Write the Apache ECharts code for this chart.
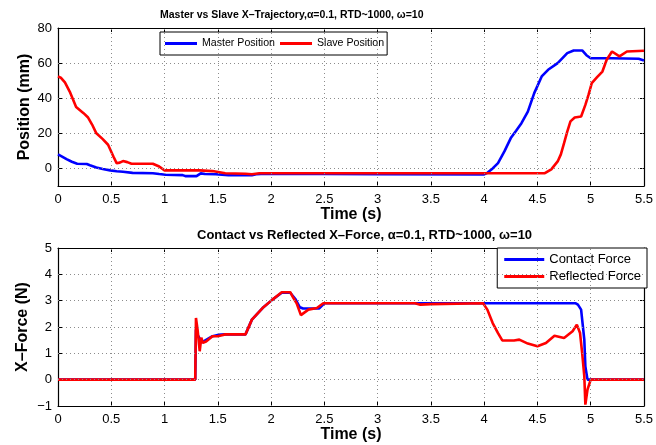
<!DOCTYPE html>
<html>
<head>
<meta charset="utf-8">
<script src="https://cdn.jsdelivr.net/npm/echarts@6/dist/echarts.min.js"></script>
<style>
  html, body { margin: 0; padding: 0; background: #fff; }
  #chart { width: 656px; height: 445px; }
</style>
</head>
<body>
<div id="chart"></div>
<script>
// Trajectory plot: [time (s), position (mm)]
const masterPosition = [
  [0, 8], [0.03, 7], [0.08, 5.3], [0.13, 3.8], [0.18, 2.7], [0.27, 2.5], [0.3, 1.8],
  [0.36, 0.6], [0.42, -0.3], [0.49, -1.1], [0.55, -1.6], [0.61, -1.9], [0.7, -2.5],
  [0.89, -2.7], [0.95, -3.2], [1.01, -3.6], [1.17, -3.8], [1.2, -4.4], [1.3, -4.4],
  [1.34, -2.8], [1.38, -3.2], [1.48, -3.3], [1.6, -3.8], [1.82, -3.8], [1.86, -3.3],
  [1.95, -3.0], [2.5, -3.2], [3.0, -3.3], [4.0, -3.4], [4.03, -2.5], [4.08, 0],
  [4.13, 3], [4.19, 9.7], [4.25, 17.3], [4.3, 21.5], [4.35, 25.8], [4.41, 32.4],
  [4.47, 42.9], [4.54, 52.4], [4.6, 56.2], [4.69, 60], [4.78, 65.7], [4.84, 67.2],
  [4.92, 67.2], [4.96, 64.5], [5.0, 62.8], [5.2, 62.8], [5.45, 62.5], [5.5, 61.5]
];
const slavePosition = [
  [0, 52.4], [0.03, 51.5], [0.065, 49], [0.11, 43.8], [0.17, 35], [0.24, 31.5],
  [0.28, 29.2], [0.32, 25], [0.36, 20], [0.42, 16.7], [0.47, 13.5], [0.52, 6.8],
  [0.55, 3], [0.58, 3.3], [0.61, 4.2], [0.65, 3.6], [0.69, 2.7], [0.89, 2.7],
  [0.95, 1.1], [1.0, -1.1], [1.33, -1.1], [1.45, -1.5], [1.57, -2.7], [1.76, -3.0],
  [1.82, -3.3], [1.89, -2.7], [2.0, -2.7], [3.0, -2.7], [4.0, -2.7], [4.57, -2.7],
  [4.63, -0.5], [4.69, 4], [4.72, 8], [4.75, 14.4], [4.78, 21], [4.81, 26.8],
  [4.85, 29], [4.91, 29.6], [4.95, 36.2], [4.98, 42], [5.01, 48.6], [5.06, 52],
  [5.11, 55.2], [5.15, 61.9], [5.2, 66.6], [5.27, 63.8], [5.34, 66.6], [5.5, 67]
];

// Force plot: [time (s), force (N)]
const contactForce = [
  [0, 0], [1.288, 0], [1.295, 1.9], [1.31, 1.7], [1.35, 1.42], [1.45, 1.65],
  [1.5, 1.7], [1.57, 1.72], [1.76, 1.72], [1.82, 2.28], [1.92, 2.72], [2.01, 3.03],
  [2.1, 3.3], [2.18, 3.3], [2.23, 3.05], [2.27, 2.75], [2.3, 2.7], [2.45, 2.7],
  [2.5, 2.9], [4.86, 2.9], [4.88, 2.85], [4.91, 2.66], [4.94, 1.52], [4.95, 0.5],
  [4.97, 0], [5.5, 0]
];
const reflectedForce = [
  [0, 0], [1.288, 0], [1.295, 2.34], [1.31, 1.9], [1.32, 1.5], [1.33, 1.08],
  [1.345, 1.6], [1.36, 1.4], [1.39, 1.45], [1.45, 1.65], [1.5, 1.65], [1.57, 1.72],
  [1.76, 1.72], [1.82, 2.28], [1.92, 2.72], [2.01, 3.03], [2.1, 3.32], [2.18, 3.32],
  [2.21, 3.1], [2.24, 2.9], [2.28, 2.45], [2.35, 2.66], [2.43, 2.72], [2.49, 2.9],
  [3.35, 2.9], [3.4, 2.85], [3.5, 2.87], [3.99, 2.9], [4.03, 2.66], [4.08, 2.15],
  [4.13, 1.77], [4.17, 1.49], [4.28, 1.49], [4.33, 1.52], [4.41, 1.37], [4.5, 1.27],
  [4.58, 1.39], [4.66, 1.67], [4.75, 1.58], [4.83, 1.84], [4.87, 2.09], [4.9, 1.77],
  [4.92, 1.01], [4.94, 0.13], [4.95, -0.95], [4.97, -0.38], [5.0, 0], [5.5, 0]
];

// Tick positions
const timeTicks = [0, 0.5, 1, 1.5, 2, 2.5, 3, 3.5, 4, 4.5, 5, 5.5];
const positionTicks = [0, 20, 40, 60, 80];
const forceTicks = [-1, 0, 1, 2, 3, 4, 5];

const FONT = '"Liberation Sans", Arial, Helvetica, sans-serif';
const GRID_COLOR = '#8c8c8c';
const BLUE = '#0000ff';
const RED = '#ff0000';
const minusSign = v => String(v).replace('-', '\u2212');

function timeAxis(gridIndex, isTop) {
  return {
    type: 'value', gridIndex, min: 0, max: 5.5, interval: 0.5,
    position: isTop ? 'top' : 'bottom',
    name: isTop ? '' : 'Time (s)', nameLocation: 'middle', nameGap: 21,
    nameMoveOverlap: false,
    nameTextStyle: { fontFamily: FONT, fontSize: 16, fontWeight: 'bold', color: '#000' },
    axisLine: { show: true, onZero: false, lineStyle: { color: '#000', width: 1.2 } },
    axisTick: { show: true, inside: true, length: 4, lineStyle: { color: '#000' } },
    axisLabel: { show: !isTop, margin: 7, fontFamily: FONT, fontSize: 13, color: '#000' },
    splitLine: { show: false }
  };
}

function valueAxis(gridIndex, isRight, min, max, ticks, name, gap) {
  return {
    type: 'value', gridIndex, min, max,
    position: isRight ? 'right' : 'left',
    name: isRight ? '' : name, nameLocation: 'middle', nameGap: gap,
    nameMoveOverlap: false,
    nameTextStyle: { fontFamily: FONT, fontSize: 16, fontWeight: 'bold', color: '#000' },
    axisLine: { show: true, onZero: false, lineStyle: { color: '#000', width: 1.2 } },
    axisTick: { show: true, inside: true, length: 4, customValues: ticks, lineStyle: { color: '#000' } },
    axisLabel: {
      show: !isRight, margin: 6, customValues: ticks, formatter: minusSign,
      fontFamily: FONT, fontSize: 13, color: '#000'
    },
    splitLine: { show: false }
  };
}

// Dotted grid lines drawn as mark lines at the tick values of each plot
function gridSeries(axisIdx, xs, ys) {
  return {
    name: 'grid' + axisIdx,
    type: 'line', xAxisIndex: axisIdx, yAxisIndex: axisIdx,
    data: [[xs[0], ys[0]]], showSymbol: false, silent: true, z: 1,
    lineStyle: { opacity: 0 }, itemStyle: { opacity: 0 },
    markLine: {
      silent: true, symbol: ['none', 'none'], label: { show: false }, animation: false,
      lineStyle: { color: GRID_COLOR, type: [1, 3], width: 1 },
      data: xs.slice(1, -1).map(v => ({ xAxis: v }))
        .concat(ys.slice(1, -1).map(v => ({ yAxis: v })))
    }
  };
}

function legendItem(name, color) {
  return { name, icon: 'rect', itemStyle: { color, opacity: 1 }, textStyle: { color: '#000' } };
}

const chart = echarts.init(document.getElementById('chart'), null, { renderer: 'canvas' });

chart.setOption({
  backgroundColor: '#fff',
  animation: false,
  title: [
    {
      text: 'Master vs Slave X\u2013Trajectory,\u03b1=0.1, RTD~1000, \u03c9=10',
      left: 160, top: 10, padding: 0,
      textStyle: { fontFamily: FONT, fontSize: 10.5, fontWeight: 'bold', color: '#000' }
    },
    {
      text: 'Contact vs Reflected X\u2013Force, \u03b1=0.1, RTD~1000, \u03c9=10',
      left: 197, top: 229, padding: 0,
      textStyle: { fontFamily: FONT, fontSize: 13, fontWeight: 'bold', color: '#000' }
    }
  ],
  legend: [
    {
      data: [legendItem('Master Position', BLUE), legendItem('Slave Position', RED)],
      orient: 'horizontal', left: 160, top: 32,
      itemWidth: 32, itemHeight: 3, itemGap: 5,
      padding: [6, 3, 6, 5], selectedMode: false,
      borderColor: '#000', borderWidth: 1, backgroundColor: '#fff',
      textStyle: { fontFamily: FONT, fontSize: 10.6, color: '#000' }
    },
    {
      data: [legendItem('Contact Force', BLUE), legendItem('Reflected Force', RED)],
      orient: 'vertical', right: 9, top: 248,
      itemWidth: 40, itemHeight: 3, itemGap: 4,
      padding: [5, 6, 5, 7], selectedMode: false,
      borderColor: '#000', borderWidth: 1, backgroundColor: '#fff',
      textStyle: { fontFamily: FONT, fontSize: 13, color: '#000' }
    }
  ],
  grid: [
    { left: 58, right: 9, top: 28, height: 158 },
    { left: 58, right: 9, top: 248, height: 158 }
  ],
  xAxis: [
    timeAxis(0, false), timeAxis(0, true),
    timeAxis(1, false), timeAxis(1, true)
  ],
  yAxis: [
    valueAxis(0, false, -10, 80, positionTicks, 'Position (mm)', 25),
    valueAxis(0, true, -10, 80, positionTicks, '', 25),
    valueAxis(1, false, -1, 5, forceTicks, 'X\u2013Force (N)', 27),
    valueAxis(1, true, -1, 5, forceTicks, '', 27)
  ],
  series: [
    gridSeries(0, timeTicks, [-10].concat(positionTicks)),
    gridSeries(2, timeTicks, forceTicks),
    {
      name: 'Master Position', type: 'line', xAxisIndex: 0, yAxisIndex: 0,
      data: masterPosition, showSymbol: false, z: 3,
      lineStyle: { color: BLUE, width: 2.6 }, itemStyle: { color: BLUE }
    },
    {
      name: 'Slave Position', type: 'line', xAxisIndex: 0, yAxisIndex: 0,
      data: slavePosition, showSymbol: false, z: 4,
      lineStyle: { color: RED, width: 2.6 }, itemStyle: { color: RED }
    },
    {
      name: 'Contact Force', type: 'line', xAxisIndex: 2, yAxisIndex: 2,
      data: contactForce, showSymbol: false, z: 3,
      lineStyle: { color: BLUE, width: 2.6 }, itemStyle: { color: BLUE }
    },
    {
      name: 'Reflected Force', type: 'line', xAxisIndex: 2, yAxisIndex: 2,
      data: reflectedForce, showSymbol: false, z: 4,
      lineStyle: { color: RED, width: 2.6 }, itemStyle: { color: RED }
    }
  ]
});
</script>
</body>
</html>
